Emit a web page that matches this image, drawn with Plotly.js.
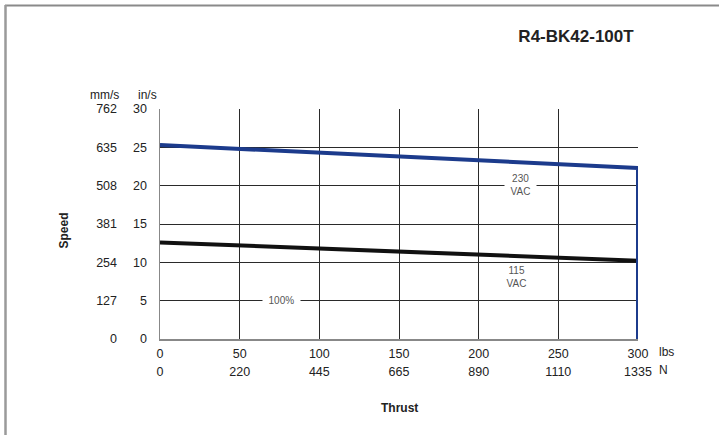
<!DOCTYPE html>
<html>
<head>
<meta charset="utf-8">
<script src="https://cdn.plot.ly/plotly-3.0.1.min.js"></script>
<style>html,body{margin:0;padding:0;background:#fff}#chart{width:719px;height:435px}</style>
</head>
<body>
<div id="chart"></div>
<script>
// ---- data ----
const thrustLbsTicks = [0, 50, 100, 150, 200, 250, 300];
const thrustNLabels = ['0', '220', '445', '665', '890', '1110', '1335'];
const speedInTicks = [0, 5, 10, 15, 20, 25, 30];
const speedMmLabels = ['0', '127', '254', '381', '508', '635', '762'];

const thrust230 = [0, 300, 300];
const speed230 = [25.3, 22.3, 0];
const thrust115 = [0, 300];
const speed115 = [12.6, 10.2];

const labelText = ['230<br>VAC', '115<br>VAC', '100%'];
const labelX = [226, 224, 76];
const labelY = [20.1, 8.1, 5];

// ---- layout helpers (pixel -> paper) ----
const W = 719, H = 435, ML = 0, MR = 81, MT = 109, MB = 20;
const PW = W - ML - MR, PH = H - MT - MB;
const px = x => (x - ML) / PW;
const py = y => (H - MB - y) / PH;

const FONT = 'Liberation Sans, Arial, Helvetica, sans-serif';
const TICKFONT = {family: FONT, size: 12.5, color: '#222'};
const PAD = '&nbsp;&nbsp;';

const traces = [
  {x: thrust115, y: speed115, mode: 'lines', line: {color: '#111111', width: 4}, hoverinfo: 'skip', showlegend: false},
  {x: thrust230, y: speed230, mode: 'lines', line: {color: '#1c3b8c', width: 4}, hoverinfo: 'skip', showlegend: false}
];

const annotations = labelText.map((t, i) => ({
  x: labelX[i], y: labelY[i], xref: 'x', yref: 'y',
  text: t.split('<br>').map(s => PAD + s + PAD).join('<br>'), showarrow: false,
  xanchor: 'center', yanchor: 'middle',
  font: {family: FONT, size: 10, color: '#555'}, bgcolor: '#ffffff', borderpad: 0
}));
function note(x, y, text, xa, extra) {
  return Object.assign({x: px(x), y: py(y), xref: 'paper', yref: 'paper', text: text, showarrow: false,
    xanchor: xa || 'center', yanchor: 'middle', font: {family: FONT, size: 12, color: '#222'}}, extra || {});
}
annotations.push(
  note(104, 95, 'mm/s'),
  note(147, 95, 'in/s'),
  note(657, 352, 'lbs', 'left'),
  note(657, 370, 'N', 'left'),
  note(399, 408, '<b>Thrust</b>'),
  note(63.5, 231, '<b>Speed</b>', 'center', {textangle: -90})
);

const layout = {
  width: W, height: H,
  margin: {l: ML, r: MR, t: MT, b: MB, pad: 0},
  paper_bgcolor: '#fff', plot_bgcolor: '#fff',
  font: {family: FONT, size: 12, color: '#222'},
  title: {text: '<b>R4-BK42-100T</b>', x: 576 / W, xref: 'container', xanchor: 'center', y: 1 - 36 / H, yref: 'container', yanchor: 'middle', font: {family: FONT, size: 17, color: '#222'}},
  showlegend: false,
  xaxis: {
    domain: [px(160), 1], range: [0, 300], tickvals: thrustLbsTicks, ticktext: thrustLbsTicks.map(String),
    showgrid: true, gridcolor: '#2a2a2a', gridwidth: 1, zeroline: false,
    showline: true, linecolor: '#888', linewidth: 1.5, ticks: '', ticklabelstandoff: 2,
    tickfont: TICKFONT, fixedrange: true
  },
  xaxis2: {
    overlaying: 'x', anchor: 'free', position: py(360), range: [0, 300],
    tickvals: thrustLbsTicks, ticktext: thrustNLabels, showgrid: false, zeroline: false, showline: false, ticks: '', ticklabelstandoff: 2,
    tickfont: TICKFONT, fixedrange: true
  },
  yaxis: {
    domain: [py(339), 1], range: [0, 30], tickvals: speedInTicks, ticktext: speedInTicks.map(String),
    showgrid: true, gridcolor: '#2a2a2a', gridwidth: 1, zeroline: false,
    showline: true, linecolor: '#888', linewidth: 1.5, ticks: '', ticklabelstandoff: 9,
    tickfont: TICKFONT, fixedrange: true
  },
  yaxis2: {
    overlaying: 'y', anchor: 'free', position: px(126), range: [0, 30],
    tickvals: speedInTicks, ticktext: speedMmLabels, showgrid: false, zeroline: false, showline: false, ticks: '', ticklabelstandoff: 9,
    tickfont: TICKFONT, fixedrange: true
  },
  shapes: [
    {type: 'line', xref: 'paper', yref: 'paper', x0: px(5), x1: px(719), y0: py(5.5), y1: py(5.5), line: {color: '#8a8a8a', width: 2}},
    {type: 'line', xref: 'paper', yref: 'paper', x0: px(5.5), x1: px(5.5), y0: py(5), y1: py(435), line: {color: '#9a9a9a', width: 2.5}}
  ],
  annotations: annotations
};

// invisible trace to activate the secondary axes
traces.push({x: [0], y: [0], xaxis: 'x2', yaxis: 'y2', mode: 'markers', marker: {opacity: 0}, hoverinfo: 'skip', showlegend: false});

Plotly.newPlot('chart', traces, layout, {staticPlot: true, displayModeBar: false});
</script>
</body>
</html>
